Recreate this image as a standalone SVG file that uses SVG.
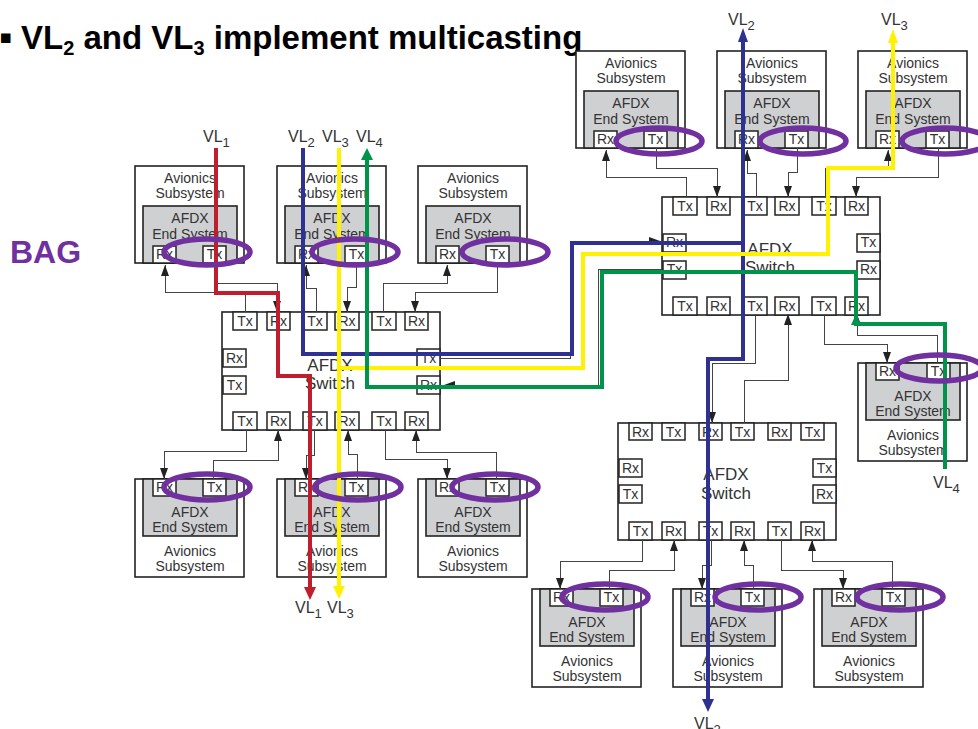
<svg xmlns="http://www.w3.org/2000/svg" width="978" height="729" viewBox="0 0 978 729">
<defs>
<style>
text{font-family:"Liberation Sans",Arial,sans-serif;fill:#333}
.t{font-size:14px;text-anchor:middle}
.sw{font-size:17px;text-anchor:middle}
.vl{font-size:16px}
.vl tspan{font-size:13px}
.o{fill:#fff;stroke:#222;stroke-width:1.6}
.g{fill:#cfd0d2;stroke:#222;stroke-width:1.6}
.p{fill:#fff;stroke:#222;stroke-width:1.5}
.c{fill:none;stroke:#444;stroke-width:1;shape-rendering:crispEdges}
.l{fill:none;stroke-width:4;stroke-linejoin:miter}
.e{fill:none;stroke:#7030a0;stroke-width:5.5}
.h{font-size:33px;font-weight:bold}
.s{font-size:20px}
</style>
<marker id="a" markerUnits="userSpaceOnUse" markerWidth="11" markerHeight="8" refX="11" refY="4" orient="auto"><path d="M0 0L11 4L0 8Z" fill="#222"/></marker>
</defs>
<rect width="978" height="729" fill="#fff"/>
<text id="bullet" x="-1" y="50" style="fill:#000;font-size:38px;font-weight:bold">▪</text>
<text id="title" class="h" x="21" y="49" style="fill:#000">VL<tspan class="s" dy="6">2</tspan><tspan dy="-6"> and VL</tspan><tspan class="s" dy="6">3</tspan><tspan dy="-6"> implement multicasting</tspan></text>
<text id="bag" x="10" y="263" style="fill:#7030a0;font-size:32px;font-weight:bold">BAG</text>

<g id="es-l1" transform="translate(135,166)"><rect class="o" width="109" height="97"/><rect class="g" x="8" y="40" width="94" height="57"/><rect class="p" x="18" y="80" width="23" height="17"/><rect class="p" x="68" y="80" width="23" height="17"/><text class="t" x="55" y="17">Avionics</text><text class="t" x="55" y="32">Subsystem</text><text class="t" x="55" y="57">AFDX</text><text class="t" x="55" y="73">End System</text><text class="t" x="29.500" y="93">Rx</text><text class="t" x="79.500" y="93">Tx</text></g>
<g id="es-l2" transform="translate(277,166)"><rect class="o" width="109" height="97"/><rect class="g" x="8" y="40" width="94" height="57"/><rect class="p" x="18" y="80" width="23" height="17"/><rect class="p" x="68" y="80" width="23" height="17"/><text class="t" x="55" y="17">Avionics</text><text class="t" x="55" y="32">Subsystem</text><text class="t" x="55" y="57">AFDX</text><text class="t" x="55" y="73">End System</text><text class="t" x="29.500" y="93">Rx</text><text class="t" x="79.500" y="93">Tx</text></g>
<g id="es-l3" transform="translate(418,166)"><rect class="o" width="109" height="97"/><rect class="g" x="8" y="40" width="94" height="57"/><rect class="p" x="18" y="80" width="23" height="17"/><rect class="p" x="68" y="80" width="23" height="17"/><text class="t" x="55" y="17">Avionics</text><text class="t" x="55" y="32">Subsystem</text><text class="t" x="55" y="57">AFDX</text><text class="t" x="55" y="73">End System</text><text class="t" x="29.500" y="93">Rx</text><text class="t" x="79.500" y="93">Tx</text></g>

<g id="es-u1" transform="translate(576,51)"><rect class="o" width="109" height="97"/><rect class="g" x="8" y="40" width="94" height="57"/><rect class="p" x="18" y="80" width="23" height="17"/><rect class="p" x="68" y="80" width="23" height="17"/><text class="t" x="55" y="17">Avionics</text><text class="t" x="55" y="32">Subsystem</text><text class="t" x="55" y="57">AFDX</text><text class="t" x="55" y="73">End System</text><text class="t" x="29.500" y="93">Rx</text><text class="t" x="79.500" y="93">Tx</text></g>
<g id="es-u2" transform="translate(717,51)"><rect class="o" width="109" height="97"/><rect class="g" x="8" y="40" width="94" height="57"/><rect class="p" x="18" y="80" width="23" height="17"/><rect class="p" x="68" y="80" width="23" height="17"/><text class="t" x="55" y="17">Avionics</text><text class="t" x="55" y="32">Subsystem</text><text class="t" x="55" y="57">AFDX</text><text class="t" x="55" y="73">End System</text><text class="t" x="29.500" y="93">Rx</text><text class="t" x="79.500" y="93">Tx</text></g>
<g id="es-u3" transform="translate(858,51)"><rect class="o" width="109" height="97"/><rect class="g" x="8" y="40" width="94" height="57"/><rect class="p" x="18" y="80" width="23" height="17"/><rect class="p" x="68" y="80" width="23" height="17"/><text class="t" x="55" y="17">Avionics</text><text class="t" x="55" y="32">Subsystem</text><text class="t" x="55" y="57">AFDX</text><text class="t" x="55" y="73">End System</text><text class="t" x="29.500" y="93">Rx</text><text class="t" x="79.500" y="93">Tx</text></g>

<g id="es-b1" transform="translate(135,479)"><rect class="o" width="109" height="98"/><rect class="g" x="8" y="0" width="94" height="57"/><rect class="p" x="18" y="0" width="23" height="17"/><rect class="p" x="68" y="0" width="23" height="17"/><text class="t" x="29.500" y="13">Rx</text><text class="t" x="79.500" y="13">Tx</text><text class="t" x="55" y="38">AFDX</text><text class="t" x="55" y="53">End System</text><text class="t" x="55" y="77">Avionics</text><text class="t" x="55" y="92">Subsystem</text></g>
<g id="es-b2" transform="translate(277,479)"><rect class="o" width="109" height="98"/><rect class="g" x="8" y="0" width="94" height="57"/><rect class="p" x="18" y="0" width="23" height="17"/><rect class="p" x="68" y="0" width="23" height="17"/><text class="t" x="29.500" y="13">Rx</text><text class="t" x="79.500" y="13">Tx</text><text class="t" x="55" y="38">AFDX</text><text class="t" x="55" y="53">End System</text><text class="t" x="55" y="77">Avionics</text><text class="t" x="55" y="92">Subsystem</text></g>
<g id="es-b3" transform="translate(418,479)"><rect class="o" width="109" height="98"/><rect class="g" x="8" y="0" width="94" height="57"/><rect class="p" x="18" y="0" width="23" height="17"/><rect class="p" x="68" y="0" width="23" height="17"/><text class="t" x="29.500" y="13">Rx</text><text class="t" x="79.500" y="13">Tx</text><text class="t" x="55" y="38">AFDX</text><text class="t" x="55" y="53">End System</text><text class="t" x="55" y="77">Avionics</text><text class="t" x="55" y="92">Subsystem</text></g>

<g id="es-r1" transform="translate(858,363)"><rect class="o" width="109" height="98"/><rect class="g" x="8" y="0" width="94" height="57"/><rect class="p" x="18" y="0" width="23" height="17"/><rect class="p" x="69" y="0" width="23" height="17"/><text class="t" x="29.500" y="13">Rx</text><text class="t" x="80.500" y="13">Tx</text><text class="t" x="55" y="38">AFDX</text><text class="t" x="55" y="53">End System</text><text class="t" x="55" y="77">Avionics</text><text class="t" x="55" y="92">Subsystem</text></g>

<g id="es-s1" transform="translate(532,589)"><rect class="o" width="109" height="98"/><rect class="g" x="8" y="0" width="94" height="57"/><rect class="p" x="18" y="0" width="23" height="17"/><rect class="p" x="68" y="0" width="23" height="17"/><text class="t" x="29.500" y="13">Rx</text><text class="t" x="79.500" y="13">Tx</text><text class="t" x="55" y="38">AFDX</text><text class="t" x="55" y="53">End System</text><text class="t" x="55" y="77">Avionics</text><text class="t" x="55" y="92">Subsystem</text></g>
<g id="es-s2" transform="translate(673,589)"><rect class="o" width="109" height="98"/><rect class="g" x="8" y="0" width="94" height="57"/><rect class="p" x="18" y="0" width="23" height="17"/><rect class="p" x="68" y="0" width="23" height="17"/><text class="t" x="29.500" y="13">Rx</text><text class="t" x="79.500" y="13">Tx</text><text class="t" x="55" y="38">AFDX</text><text class="t" x="55" y="53">End System</text><text class="t" x="55" y="77">Avionics</text><text class="t" x="55" y="92">Subsystem</text></g>
<g id="es-s3" transform="translate(814,589)"><rect class="o" width="109" height="98"/><rect class="g" x="8" y="0" width="94" height="57"/><rect class="p" x="18" y="0" width="23" height="17"/><rect class="p" x="68" y="0" width="23" height="17"/><text class="t" x="29.500" y="13">Rx</text><text class="t" x="79.500" y="13">Tx</text><text class="t" x="55" y="38">AFDX</text><text class="t" x="55" y="53">End System</text><text class="t" x="55" y="77">Avionics</text><text class="t" x="55" y="92">Subsystem</text></g>

<g id="switch-left" transform="translate(222,312)"><rect class="o" width="218" height="118"/>
<rect class="p" x="11" width="24" height="18"/><rect class="p" x="45" width="23" height="18"/><rect class="p" x="81" width="24" height="18"/><rect class="p" x="113" width="24" height="18"/><rect class="p" x="150" width="24" height="18"/><rect class="p" x="183" width="23" height="18"/>
<rect class="p" x="1" y="37" width="23" height="18"/><rect class="p" x="1" y="64" width="23" height="18"/><rect class="p" x="195" y="37" width="23" height="18"/><rect class="p" x="195" y="64" width="23" height="18"/>
<rect class="p" x="11" y="100" width="24" height="18"/><rect class="p" x="45" y="100" width="23" height="18"/><rect class="p" x="81" y="100" width="24" height="18"/><rect class="p" x="113" y="100" width="24" height="18"/><rect class="p" x="150" y="100" width="24" height="18"/><rect class="p" x="183" y="100" width="23" height="18"/>
<text class="t" x="23" y="14">Tx</text><text class="t" x="56.500" y="14">Rx</text><text class="t" x="93" y="14">Tx</text><text class="t" x="125" y="14">Rx</text><text class="t" x="162" y="14">Tx</text><text class="t" x="194.500" y="14">Rx</text>
<text class="t" x="12.500" y="51">Rx</text><text class="t" x="12.500" y="78">Tx</text><text class="t" x="206.500" y="51">Tx</text><text class="t" x="206.500" y="78">Rx</text>
<text class="t" x="23" y="114">Tx</text><text class="t" x="56.500" y="114">Rx</text><text class="t" x="93" y="114">Tx</text><text class="t" x="125" y="114">Rx</text><text class="t" x="162" y="114">Tx</text><text class="t" x="194.500" y="114">Rx</text>
<text class="sw" x="108" y="59">AFDX</text><text class="sw" x="108" y="77">Switch</text></g>

<g id="switch-right" transform="translate(662,197)"><rect class="o" width="218" height="118"/>
<rect class="p" x="11" width="24" height="18"/><rect class="p" x="45" width="23" height="18"/><rect class="p" x="81" width="24" height="18"/><rect class="p" x="113" width="24" height="18"/><rect class="p" x="150" width="24" height="18"/><rect class="p" x="183" width="23" height="18"/>
<rect class="p" x="1" y="37" width="23" height="18"/><rect class="p" x="1" y="64" width="23" height="18"/><rect class="p" x="195" y="37" width="23" height="18"/><rect class="p" x="195" y="64" width="23" height="18"/>
<rect class="p" x="11" y="100" width="24" height="18"/><rect class="p" x="45" y="100" width="23" height="18"/><rect class="p" x="81" y="100" width="24" height="18"/><rect class="p" x="113" y="100" width="24" height="18"/><rect class="p" x="150" y="100" width="24" height="18"/><rect class="p" x="183" y="100" width="23" height="18"/>
<text class="t" x="23" y="14">Tx</text><text class="t" x="56.500" y="14">Rx</text><text class="t" x="93" y="14">Tx</text><text class="t" x="125" y="14">Rx</text><text class="t" x="162" y="14">Tx</text><text class="t" x="194.500" y="14">Rx</text>
<text class="t" x="12.500" y="50">Rx</text><text class="t" x="12.500" y="77">Tx</text><text class="t" x="206.500" y="50">Tx</text><text class="t" x="206.500" y="77">Rx</text>
<text class="t" x="23" y="114">Tx</text><text class="t" x="56.500" y="114">Rx</text><text class="t" x="93" y="114">Tx</text><text class="t" x="125" y="114">Rx</text><text class="t" x="162" y="114">Tx</text><text class="t" x="194.500" y="114">Rx</text>
<text class="sw" x="108" y="58">AFDX</text><text class="sw" x="108" y="76">Switch</text></g>

<g id="switch-bottom" transform="translate(618,423)"><rect class="o" width="218" height="117"/>
<rect class="p" x="11" width="23" height="17"/><rect class="p" x="44" width="23" height="17"/><rect class="p" x="81" width="23" height="17"/><rect class="p" x="113" width="23" height="17"/><rect class="p" x="150" width="23" height="17"/><rect class="p" x="183" width="23" height="17"/>
<rect class="p" x="1" y="36" width="23" height="18"/><rect class="p" x="1" y="62" width="23" height="18"/><rect class="p" x="195" y="36" width="23" height="18"/><rect class="p" x="195" y="62" width="23" height="18"/>
<rect class="p" x="11" y="99" width="23" height="18"/><rect class="p" x="44" y="99" width="23" height="18"/><rect class="p" x="81" y="99" width="23" height="18"/><rect class="p" x="113" y="99" width="23" height="18"/><rect class="p" x="150" y="99" width="23" height="18"/><rect class="p" x="183" y="99" width="23" height="18"/>
<text class="t" x="22.500" y="14">Rx</text><text class="t" x="55.500" y="14">Tx</text><text class="t" x="92.500" y="14">Rx</text><text class="t" x="124.500" y="14">Tx</text><text class="t" x="161.500" y="14">Rx</text><text class="t" x="194.500" y="14">Tx</text>
<text class="t" x="12.500" y="50">Rx</text><text class="t" x="12.500" y="76">Tx</text><text class="t" x="206.500" y="50">Tx</text><text class="t" x="206.500" y="76">Rx</text>
<text class="t" x="22.500" y="113">Tx</text><text class="t" x="55.500" y="113">Rx</text><text class="t" x="92.500" y="113">Tx</text><text class="t" x="124.500" y="113">Rx</text><text class="t" x="161.500" y="113">Tx</text><text class="t" x="194.500" y="113">Rx</text>
<text class="sw" x="108" y="57">AFDX</text><text class="sw" x="108" y="76">Switch</text></g>

<g id="connectors">
<path class="c" marker-end="url(#a)" d="M245 312V292H165V265"/>
<path class="c" marker-end="url(#a)" d="M214 263V283H277V312"/>
<path class="c" marker-end="url(#a)" d="M316 312V288H306V265"/>
<path class="c" marker-end="url(#a)" d="M356 263V287H347V312"/>
<path class="c" marker-end="url(#a)" d="M383 312V283H447V265"/>
<path class="c" marker-end="url(#a)" d="M497 263V292H415V312"/>
<path class="c" marker-end="url(#a)" d="M246 430V451H164V479"/>
<path class="c" marker-end="url(#a)" d="M213 479V460H278V430"/>
<path class="c" marker-end="url(#a)" d="M314 430V455H306V479"/>
<path class="c" marker-end="url(#a)" d="M357 479V454H348V430"/>
<path class="c" marker-end="url(#a)" d="M385 430V459H447V479"/>
<path class="c" marker-end="url(#a)" d="M496 479V452H416V430"/>
<path class="c" marker-end="url(#a)" d="M686 197V177H606V150"/>
<path class="c" marker-end="url(#a)" d="M656 148V168H717V197"/>
<path class="c" marker-end="url(#a)" d="M756 197V173H747V150"/>
<path class="c" marker-end="url(#a)" d="M797 148V172H788V197"/>
<path class="c" marker-end="url(#a)" d="M825 197V168H888V150"/>
<path class="c" marker-end="url(#a)" d="M938 148V177H856V197"/>
<path class="c" marker-end="url(#a)" d="M755 314V363H712V423"/>
<path class="c" marker-end="url(#a)" d="M744 423V380H788V314"/>
<path class="c" marker-end="url(#a)" d="M824 314V344H887V363"/>
<path class="c" marker-end="url(#a)" d="M937 363V335H857V314"/>
<path class="c" marker-end="url(#a)" d="M642 540V561H560V589"/>
<path class="c" marker-end="url(#a)" d="M609 589V570H674V540"/>
<path class="c" marker-end="url(#a)" d="M711 540V565H702V589"/>
<path class="c" marker-end="url(#a)" d="M753 589V565H744V540"/>
<path class="c" marker-end="url(#a)" d="M781 540V570H843V589"/>
<path class="c" marker-end="url(#a)" d="M892 589V561H812V540"/>
<path class="c" marker-end="url(#a)" d="M440 358H570V241H660"/>
<path class="c" marker-end="url(#a)" d="M662 269H598V385H444"/>
<path class="l" stroke="#be1e2d" d="M216 148V293H278V376H310V590"/>
<path d="M304 587H316L310 600Z" fill="#be1e2d"/>
<path class="l" stroke="#2e3192" d="M303 148V354H572V243H743"/>
<path class="l" stroke="#2e3192" d="M743 38V359H708V702"/>
<path d="M738 42H748L743 28Z" fill="#2e3192"/>
<path d="M702 699H714L708 712Z" fill="#2e3192"/>
<path class="l" stroke="#fff200" d="M339 148V588"/>
<path class="l" stroke="#fff200" d="M339 368H583V254H828V168H893V40"/>
<path d="M333 586H345L339 599Z" fill="#fff200"/>
<path d="M888 43H898L893 29Z" fill="#fff200"/>
<path class="l" stroke="#00934a" d="M367 158V387H602V272H856V324H945V469"/>
<path d="M361 160H373L367 148Z" fill="#00934a"/>
<path d="M851 325H861L856 314Z" fill="#00934a"/>
</g>

<g id="highlights">
<ellipse class="e" cx="207" cy="252" rx="43" ry="13"/>
<ellipse class="e" cx="355" cy="252" rx="43" ry="13"/>
<ellipse class="e" cx="505" cy="252" rx="43" ry="13"/>
<ellipse class="e" cx="207" cy="487" rx="43" ry="13"/>
<ellipse class="e" cx="358" cy="487" rx="43" ry="13"/>
<ellipse class="e" cx="495" cy="487" rx="43" ry="13"/>
<ellipse class="e" cx="659" cy="141" rx="43" ry="13"/>
<ellipse class="e" cx="803" cy="141" rx="43" ry="13"/>
<ellipse class="e" cx="945" cy="141" rx="43" ry="13"/>
<ellipse class="e" cx="939" cy="368" rx="43" ry="13"/>
<ellipse class="e" cx="605" cy="597" rx="43" ry="13"/>
<ellipse class="e" cx="758" cy="597" rx="43" ry="13"/>
<ellipse class="e" cx="900" cy="597" rx="43" ry="13"/>
</g>

<g id="labels">
<text class="vl" x="203" y="142">VL<tspan dy="5">1</tspan></text>
<text class="vl" x="288" y="142">VL<tspan dy="5">2</tspan></text>
<text class="vl" x="322" y="142">VL<tspan dy="5">3</tspan></text>
<text class="vl" x="356" y="142">VL<tspan dy="5">4</tspan></text>
<text class="vl" x="295" y="613">VL<tspan dy="5">1</tspan></text>
<text class="vl" x="327" y="613">VL<tspan dy="5">3</tspan></text>
<text class="vl" x="728" y="25">VL<tspan dy="5">2</tspan></text>
<text class="vl" x="881" y="25">VL<tspan dy="5">3</tspan></text>
<text class="vl" x="933" y="488">VL<tspan dy="5">4</tspan></text>
<text class="vl" x="694" y="729">VL<tspan dy="5">2</tspan></text>
</g>
</svg>
